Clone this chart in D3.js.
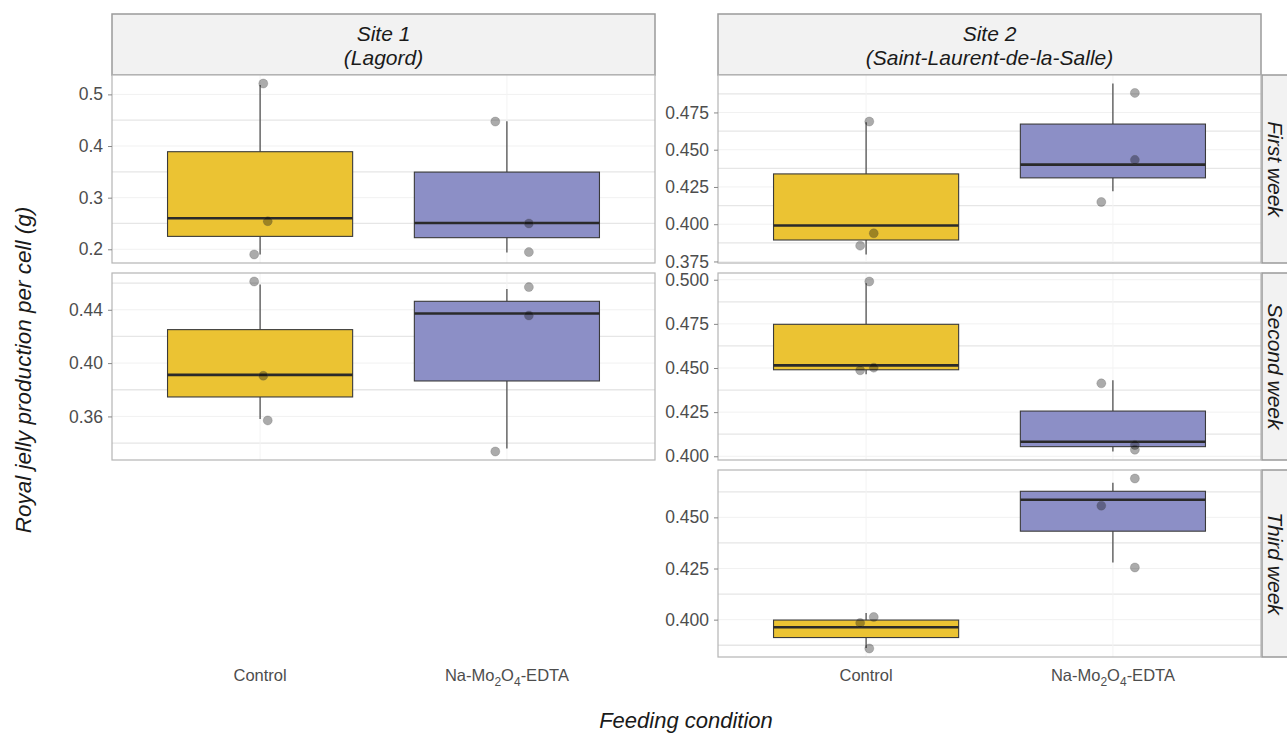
<!DOCTYPE html>
<html><head><meta charset="utf-8">
<script src="https://cdn.jsdelivr.net/npm/d3@7"></script>
<style>body{margin:0;background:#fff}svg{display:block;font-family:"Liberation Sans",Arial,sans-serif}</style>
</head><body>
<svg id="c" width="1287" height="735"></svg>
<script>
// ---------- data ----------
const siteLabels = [["Site 1","(Lagord)"],["Site 2","(Saint-Laurent-de-la-Salle)"]];
const weekLabels = ["First week","Second week","Third week"];
const categories = ["Control","Na-Mo2O4-EDTA"];
const panelSite = [0,0,1,1,1];
const panelWeek = [0,1,0,1,2];
// observed values per panel (box statistics are computed from these)
const controlObs = [[0.19,0.26,0.518],[0.358,0.3912,0.459],[0.3797,0.3991,0.4684],[0.4465,0.4515,0.498],[0.3862,0.3963,0.4033]];
const treatedObs = [[0.194,0.251,0.448],[0.336,0.4372,0.4555],[0.4222,0.44,0.4944],[0.4027,0.4082,0.443],[0.4279,0.4586,0.4669]];
// jittered points as drawn
const controlPts = [[0.521,0.2544,0.19],[0.4612,0.3905,0.357],[0.4689,0.3939,0.3856],[0.499,0.4502,0.4487],[0.3984,0.4013,0.3859]];
const controlJit = [[0.013,0.031,-0.024],[-0.024,0.013,0.031],[0.013,0.031,-0.024],[0.013,0.031,-0.024],[-0.024,0.031,0.013]];
const treatedPts = [[0.4474,0.250,0.1946],[0.457,0.4357,0.3337],[0.4881,0.4432,0.4149],[0.4413,0.4064,0.4037],[0.469,0.4557,0.4255]];
const treatedJit = [[-0.047,0.089,0.089],[0.089,0.089,-0.047],[0.089,0.089,-0.047],[-0.047,0.089,0.089],[0.089,-0.047,0.089]];
const panelTicks = [[0.2,0.3,0.4,0.5],[0.36,0.40,0.44],[0.375,0.400,0.425,0.450,0.475],[0.400,0.425,0.450,0.475,0.500],[0.400,0.425,0.450]];
const tickDigits = [1,2,3,3,3];
const fills = ["#EBC333","#8C8FC6"];

// ---------- layout ----------
const svg = d3.select("#c");
const colX = [[112,655],[718,1261]];
const rowY = [[75,263],[273,460],[470,657]];
const stripTop = 14;
const TXT = "#4d4d4d";
const STRIPFONT = 21;

// column strips
siteLabels.forEach((lab,i)=>{
  const [x0,x1]=colX[i];
  svg.append("rect").attr("x",x0).attr("y",stripTop).attr("width",x1-x0).attr("height",rowY[0][0]-stripTop)
    .attr("fill","#f2f2f2").attr("stroke","#9a9a9a").attr("stroke-width",1.5);
  const t = svg.append("text").attr("x",(x0+x1)/2).attr("y",41).attr("text-anchor","middle")
    .attr("font-size",STRIPFONT).attr("font-style","italic").attr("fill","#1a1a1a");
  t.append("tspan").attr("x",(x0+x1)/2).text(lab[0]);
  t.append("tspan").attr("x",(x0+x1)/2).attr("dy",24).text(lab[1]);
});
// row strips (right side)
weekLabels.forEach((lab,r)=>{
  const [y0,y1]=rowY[r];
  svg.append("rect").attr("x",1262).attr("y",y0).attr("width",40).attr("height",y1-y0)
    .attr("fill","#f2f2f2").attr("stroke","#9a9a9a").attr("stroke-width",1.5);
  svg.append("text").attr("transform",`translate(1268,${(y0+y1)/2}) rotate(90)`)
    .attr("text-anchor","middle").attr("font-size",STRIPFONT).attr("font-style","italic").attr("fill","#1a1a1a").text(lab);
});

function boxStats(v){
  const s=v.slice().sort(d3.ascending);
  return {min:s[0],q1:d3.quantile(s,0.25),med:d3.quantile(s,0.5),q3:d3.quantile(s,0.75),max:s[s.length-1]};
}

function catLabel(t,c){
  const parts=c.match(/(\d+|\D+)/g);
  let sub=false;
  parts.forEach(pt=>{
    const isNum=/^\d+$/.test(pt);
    const ts=t.append("tspan").text(pt);
    if(isNum){ ts.attr("font-size",12).attr("dy",sub?0:5); sub=true; }
    else { ts.attr("dy",sub?-5:0); sub=false; }
  });
}

panelSite.forEach((site,p)=>{
  const week=panelWeek[p];
  const [x0,x1]=colX[site];
  const [y0,y1]=rowY[week];
  const all = controlObs[p].concat(treatedObs[p],controlPts[p],treatedPts[p]);
  const ext = d3.extent(all); const pad=(ext[1]-ext[0])*0.05;
  const y = d3.scaleLinear().domain([ext[0]-pad,ext[1]+pad]).range([y1,y0]);
  const x = d3.scalePoint().domain(categories).range([x0,x1]).padding(0.6);
  const step = x.step();
  const g = svg.append("g");
  g.append("rect").attr("x",x0).attr("y",y0).attr("width",x1-x0).attr("height",y1-y0).attr("fill","#fff");
  // grid
  const ticks = panelTicks[p];
  const st = ticks[1]-ticks[0];
  const minor=[];
  for(let v=ticks[0]-st/2; v<=y.domain()[1]+1e-9; v+=st){ if(v>=y.domain()[0]) minor.push(v); }
  g.selectAll(".mn").data(minor).join("line").attr("x1",x0).attr("x2",x1)
    .attr("y1",d=>y(d)).attr("y2",d=>y(d)).attr("stroke","#e6e6e6").attr("stroke-width",1.3);
  g.selectAll(".mj").data(ticks).join("line").attr("x1",x0).attr("x2",x1)
    .attr("y1",d=>y(d)).attr("y2",d=>y(d)).attr("stroke","#f1f1f1").attr("stroke-width",1);
  g.selectAll(".vx").data(categories).join("line").attr("x1",d=>x(d)).attr("x2",d=>x(d))
    .attr("y1",y0).attr("y2",y1).attr("stroke","#f3f3f3").attr("stroke-width",1);
  // axis
  const ax = d3.axisLeft(y).tickValues(ticks).tickSize(4).tickPadding(5).tickFormat(d3.format(`.${tickDigits[p]}f`));
  const ag = svg.append("g").attr("transform",`translate(${x0},0)`).call(ax);
  ag.select(".domain").remove();
  ag.selectAll(".tick line").attr("stroke","#888");
  ag.selectAll(".tick text").attr("font-size",17.5).attr("fill",TXT).attr("font-family","Liberation Sans, Arial, sans-serif");
  // boxes
  [controlObs[p],treatedObs[p]].forEach((obs,ci)=>{
    const b=boxStats(obs); const cx=x(categories[ci]); const w=step*0.75;
    g.append("line").attr("x1",cx).attr("x2",cx).attr("y1",y(b.max)).attr("y2",y(b.q3)).attr("stroke","#333").attr("stroke-width",1.1);
    g.append("line").attr("x1",cx).attr("x2",cx).attr("y1",y(b.q1)).attr("y2",y(b.min)).attr("stroke","#333").attr("stroke-width",1.1);
    g.append("rect").attr("x",cx-w/2).attr("y",y(b.q3)).attr("width",w).attr("height",y(b.q1)-y(b.q3))
      .attr("fill",fills[ci]).attr("stroke","#3a3a3a").attr("stroke-width",1.1);
    g.append("line").attr("x1",cx-w/2).attr("x2",cx+w/2).attr("y1",y(b.med)).attr("y2",y(b.med)).attr("stroke","#2a2a2a").attr("stroke-width",2.6);
  });
  // points
  [[controlPts[p],controlJit[p]],[treatedPts[p],treatedJit[p]]].forEach(([vals,jit],ci)=>{
    const cx=x(categories[ci]);
    g.selectAll(null).data(vals).join("circle").attr("cx",(d,i)=>cx+jit[i]*step).attr("cy",d=>y(d)).attr("r",4.5)
      .attr("fill","#000").attr("fill-opacity",0.33).attr("stroke","#555").attr("stroke-opacity",0.25);
  });
  g.append("rect").attr("x",x0).attr("y",y0).attr("width",x1-x0).attr("height",y1-y0)
    .attr("fill","none").attr("stroke","#b5b5b5").attr("stroke-width",1.2);
  // x labels
  if(site===1 && week===2 || site===0 && week===1){
    categories.forEach(c=>{
      const t=svg.append("text").attr("x",x(c)).attr("y",681).attr("text-anchor","middle").attr("font-size",16.5).attr("fill",TXT);
      catLabel(t,c);
    });
  }
});

// axis titles
svg.append("text").attr("transform","translate(31,370) rotate(-90)").attr("text-anchor","middle")
  .attr("font-size",22.5).attr("font-style","italic").attr("fill","#1a1a1a").text("Royal jelly production per cell (g)");
svg.append("text").attr("x",686).attr("y",728).attr("text-anchor","middle")
  .attr("font-size",22).attr("font-style","italic").attr("fill","#1a1a1a").text("Feeding condition");
</script>
</body></html>
